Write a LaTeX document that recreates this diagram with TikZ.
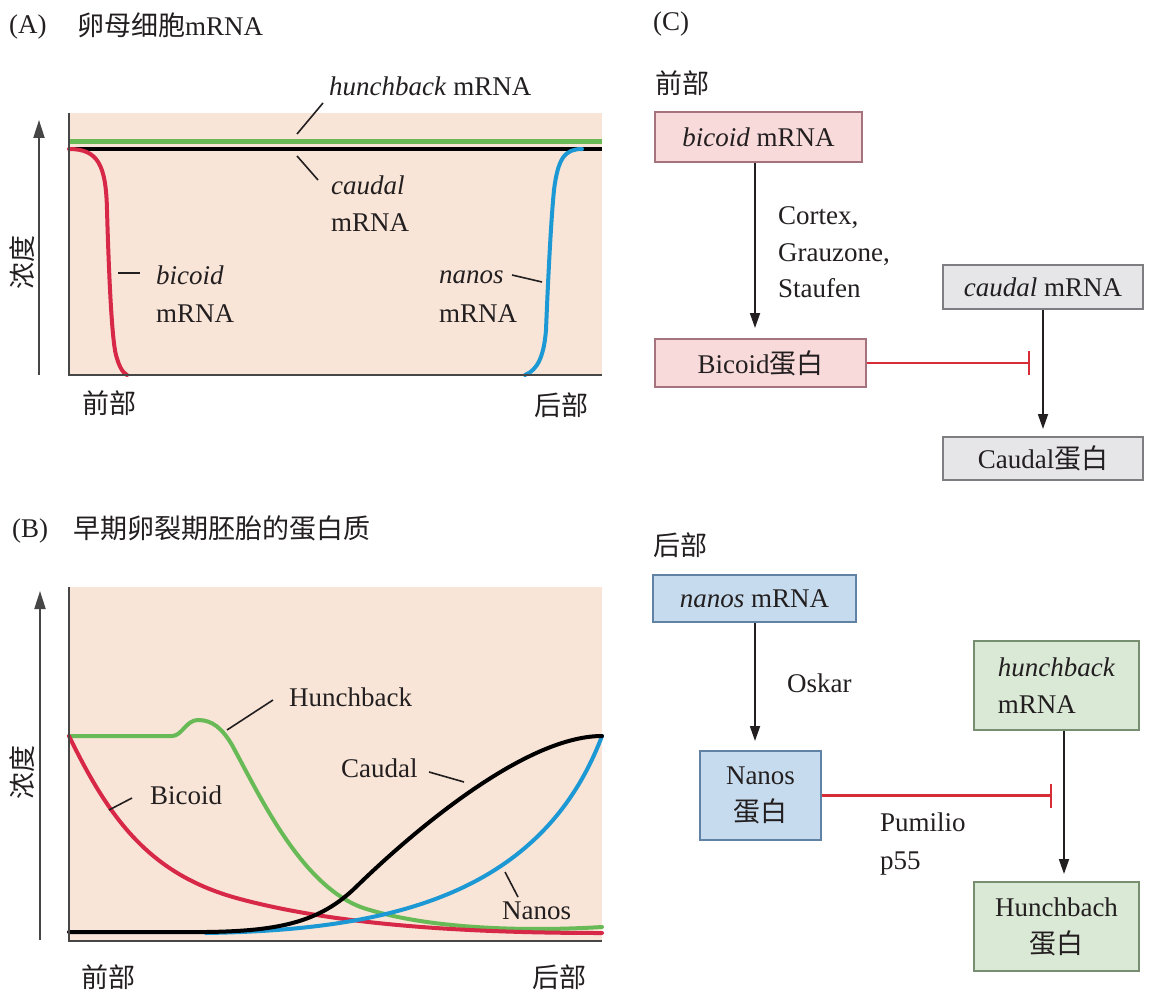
\documentclass[tikz,border=0pt]{standalone}
\usepackage{fontspec}
\setmainfont{Liberation Serif}
\newfontfamily\cjkfont{Noto Sans CJK SC}
\newcommand\zhtxt[1]{{\cjkfont #1}}
\usetikzlibrary{arrows.meta}
\definecolor{peach}{RGB}{248,229,215}
\definecolor{cgreen}{RGB}{104,186,86}
\definecolor{cred}{RGB}{216,40,72}
\definecolor{cblue}{RGB}{28,152,212}
\definecolor{axisgray}{RGB}{70,70,70}
\definecolor{pinkfill}{RGB}{248,218,218}
\definecolor{pinkline}{RGB}{165,115,125}
\definecolor{grayfill}{RGB}{230,230,233}
\definecolor{grayline}{RGB}{125,125,130}
\definecolor{bluefill}{RGB}{198,220,238}
\definecolor{blueline}{RGB}{95,130,165}
\definecolor{greenfill}{RGB}{218,233,214}
\definecolor{greenline}{RGB}{120,142,112}
\definecolor{inhred}{RGB}{215,45,55}
\definecolor{ink}{RGB}{35,31,32}
\begin{document}
\begin{tikzpicture}[x=1pt,y=-1pt,
  every node/.style={font=\fontsize{27}{37}\selectfont, inner sep=0pt, text=ink},
  txt/.style={anchor=base west},
  zh/.style={font=\fontsize{27}{37}\selectfont\cjkfont},
  axis/.style={draw=axisgray, line width=2pt},
  yarrow/.style={draw=axisgray, line width=2pt, -{Triangle[length=18pt,width=11pt]}},
  curve/.style={line width=4pt, line cap=round},
  leader/.style={draw=ink, line width=1.6pt},
  box/.style={draw, line width=2pt, inner sep=0pt},
  pinkbox/.style={box, draw=pinkline, fill=pinkfill},
  graybox/.style={box, draw=grayline, fill=grayfill},
  bluebox/.style={box, draw=blueline, fill=bluefill},
  greenbox/.style={box, draw=greenline, fill=greenfill},
  flow/.style={draw=ink, line width=1.8pt, -{Triangle[length=15pt,width=10pt]}},
  inhib/.style={draw=inhred, line width=2.2pt, -{Bar[width=24pt]}}
]
\useasboundingbox (0,0) rectangle (1161,995);
\fill[white] (0,0) rectangle (1161,995);

% ---------------- Panel A ----------------
\node[txt] (la) at (9,34) {(A)};
\node[anchor=west] (ta) at (77,25) {\zhtxt{卵母细胞}mRNA};
\fill[peach] (69,113) rectangle (602,375);
\draw[cgreen, line width=5pt] (69,142) -- (602,142);
\draw[black, line width=4pt] (69,149) -- (602,149);
\draw[cred, curve] (69,149) .. controls (98,149) and (106,165) .. (107,210)
   .. controls (109,280) and (112,340) .. (116,355)
   .. controls (119,366) and (122,372) .. (127,375);
\draw[cblue, curve] (525,375) .. controls (538,370) and (544,355) .. (546,330)
   .. controls (548,280) and (551,220) .. (554,190)
   .. controls (558,158) and (565,149) .. (582,149);
\draw[axis] (69,113) -- (69,375) -- (602,375);
\draw[yarrow] (39,375) -- (39,120);
\node[zh, rotate=90] (ya) at (22,262) {浓度};
\node[txt] (lhm) at (329,96) {\textit{hunchback} mRNA};
\node[txt] (lcm1) at (331,194) {\textit{caudal}};
\node[txt] (lcm2) at (331,231) {mRNA};
\node[txt] (lbm1) at (156,284) {\textit{bicoid}};
\node[txt] (lbm2) at (156,322) {mRNA};
\node[txt] (lnm1) at (439,283) {\textit{nanos}};
\node[txt] (lnm2) at (439,322) {mRNA};
\coordinate (ha1) at (297,134); \coordinate (ha2) at (323,103);
\coordinate (ca1) at (297,156); \coordinate (ca2) at (318,180);
\coordinate (ba1) at (118,273); \coordinate (ba2) at (140,273);
\coordinate (na1) at (512,275); \coordinate (na2) at (542,282);
\draw[leader] (ha1) -- (ha2);
\draw[leader] (ca1) -- (ca2);
\draw[leader] (ba1) -- (ba2);
\draw[leader] (na1) -- (na2);
\node[zh, anchor=west] (a1) at (82,403) {前部};
\node[zh, anchor=west] (a2) at (534,405) {后部};

% ---------------- Panel B ----------------
\node[txt] (lb) at (12,537) {(B)};
\node[zh, anchor=west] (tb) at (73,528) {早期卵裂期胚胎的蛋白质};
\fill[peach] (69,587) rectangle (602,941);
% Hunchback protein
\draw[cgreen, curve] (69,736) -- (172,736) .. controls (182,736) and (186,720) .. (198,720)
   .. controls (212,720) and (222,728) .. (232,745)
   .. controls (262,800) and (305,893) .. (370,910)
   .. controls (430,928) and (520,932) .. (602,927);
% Bicoid protein
\draw[cred, curve] (69,736) .. controls (110,820) and (150,875) .. (240,899)
   .. controls (330,923) and (450,933) .. (602,933);
% Nanos protein
\draw[cblue, curve] (206,933) .. controls (380,930) and (540,900) .. (602,736);
% Caudal protein
\draw[black, curve] (69,932) -- (206,932) .. controls (280,931) and (320,922) .. (356,887)
   .. controls (400,844) and (520,736) .. (602,736);
\draw[axis] (69,587) -- (69,941) -- (602,941);
\draw[yarrow] (40,940) -- (40,591);
\node[zh, rotate=90] (yb) at (22,772) {浓度};
\node[txt] (lhb) at (289,706) {Hunchback};
\node[txt] (lbc) at (150,804) {Bicoid};
\node[txt] (lcd) at (341,777) {Caudal};
\node[txt] (lnn) at (502,919) {Nanos};
\coordinate (hb1) at (227,730); \coordinate (hb2) at (273,700);
\coordinate (bb1) at (109,810); \coordinate (bb2) at (132,798);
\coordinate (cb1) at (429,772); \coordinate (cb2) at (464,782);
\coordinate (nb1) at (505,872); \coordinate (nb2) at (518,897);
\draw[leader] (hb1) -- (hb2);
\draw[leader] (bb1) -- (bb2);
\draw[leader] (cb1) -- (cb2);
\draw[leader] (nb1) -- (nb2);
\node[zh, anchor=west] (b1) at (81,977) {前部};
\node[zh, anchor=west] (b2) at (532,977) {后部};

% ---------------- Panel C ----------------
\node[txt] (lc) at (653,31) {(C)};
\node[zh, anchor=west] (ant) at (655,83) {前部};
\node[pinkbox, minimum width=207pt, minimum height=50pt] (bm) at (758.5,137) {\textit{bicoid} mRNA};
\node[pinkbox, minimum width=211pt, minimum height=48pt] (bp) at (760.5,363) {Bicoid\zhtxt{蛋白}};
\node[graybox, minimum width=200pt, minimum height=44pt] (cm) at (1043,287) {\textit{caudal} mRNA};
\node[graybox, minimum width=200pt, minimum height=43pt] (cp) at (1043,458.5) {Caudal\zhtxt{蛋白}};
\node[txt] (cx1) at (778,224) {Cortex,};
\node[txt] (cx2) at (778,261) {Grauzone,};
\node[txt] (cx3) at (778,297) {Staufen};
\coordinate (ax1) at (755,0);
\coordinate (ax2) at (1064,0);
\draw[flow, shorten >=10pt] (bm.south -| ax1) -- (bp.north -| ax1);
\draw[flow, shorten >=7pt] (cm.south) -- (cp.north);
\coordinate (inh1) at (1030,363);
\draw[inhib] (bp.east) -- (inh1);

\node[zh, anchor=west] (pos) at (653,545) {后部};
\node[bluebox, minimum width=203pt, minimum height=47pt] (nm) at (754.5,598.5) {\textit{nanos} mRNA};
\node[bluebox, minimum width=121pt, minimum height=89pt, align=center] (np) at (760.5,795.5) {Nanos\\\zhtxt{蛋白}};
\node[greenbox, minimum width=165pt, minimum height=89pt, align=left] (hm) at (1056.5,685.5) {\textit{hunchback}\\mRNA};
\node[greenbox, minimum width=165pt, minimum height=89pt, align=center] (hp) at (1056.5,926.5) {Hunchbach\\\zhtxt{蛋白}};
\node[txt] (osk) at (787,692) {Oskar};
\node[txt] (pum) at (880,831) {Pumilio};
\node[txt] (p55) at (880,869) {p55};
\draw[flow, shorten >=9pt] (nm.south -| ax1) -- (np.north -| ax1);
\draw[flow, shorten >=7pt] (hm.south -| ax2) -- (hp.north -| ax2);
\coordinate (inh2) at (1052,795.5);
\draw[inhib] (np.east) -- (inh2);
\end{tikzpicture}
\end{document}
